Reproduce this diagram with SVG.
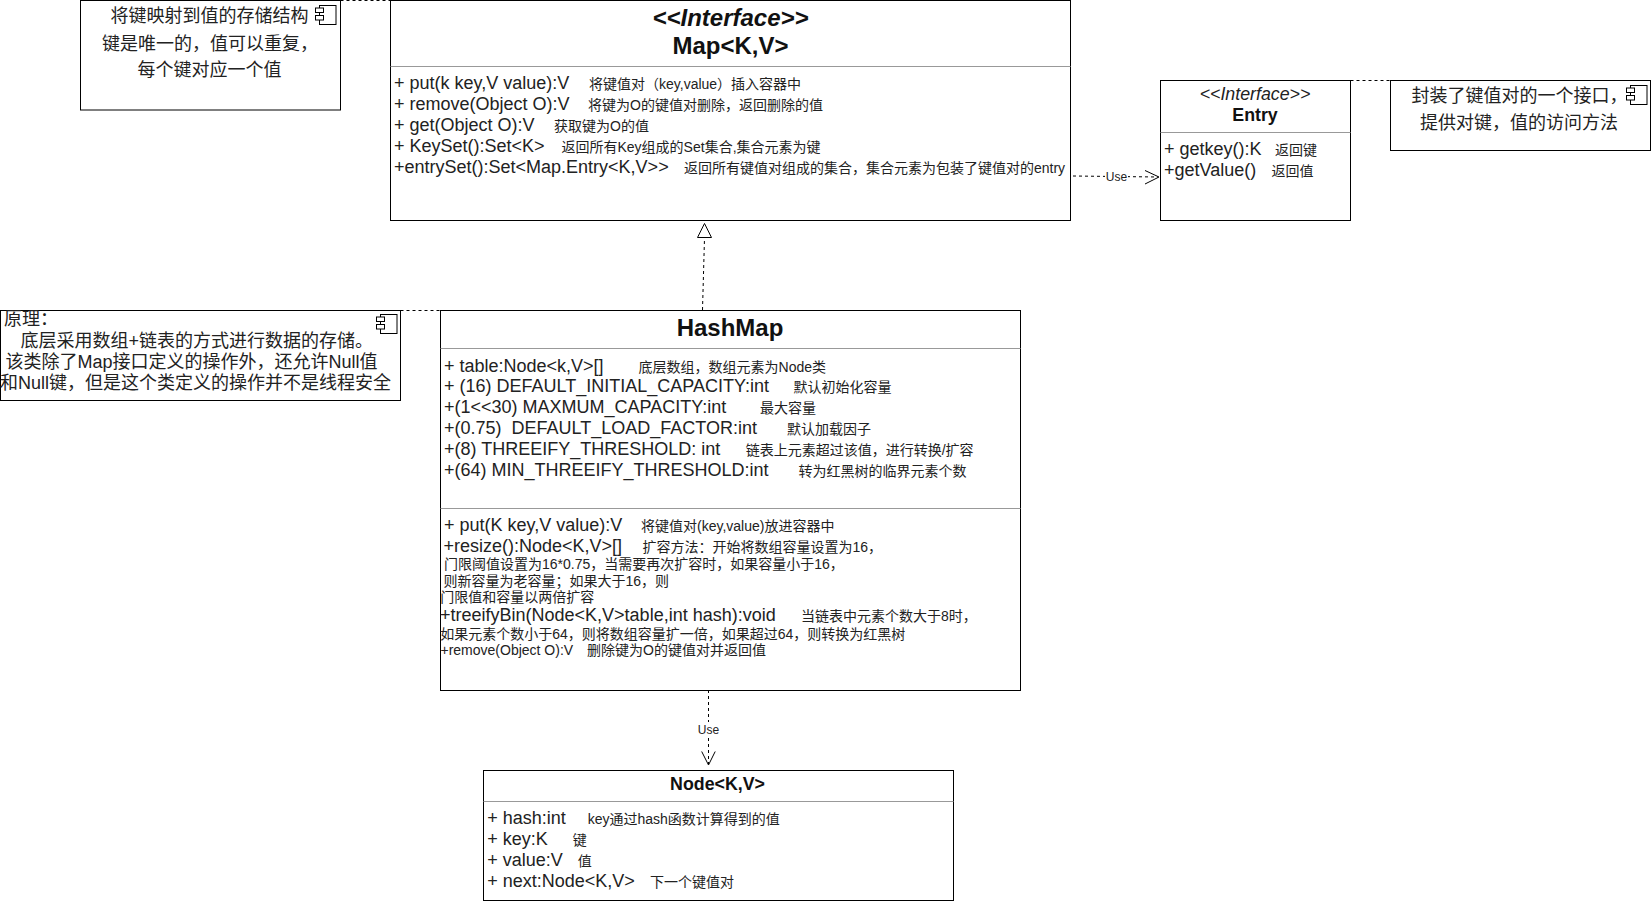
<svg xmlns="http://www.w3.org/2000/svg" xmlns:xlink="http://www.w3.org/1999/xlink" width="1651" height="901" viewBox="0 0 1651 901">
<style>
text{font-family:"Liberation Sans","Noto Sans CJK SC",sans-serif;fill:#222;white-space:pre}
.m{font-size:18px}
.c{font-size:14px}
.n{font-size:18px}
.t{font-size:24px;font-weight:bold;text-anchor:middle;fill:#111}
.ti{font-style:italic}
.h{font-size:17.8px;text-anchor:middle}
.b{font-weight:bold;fill:#111}
.i{font-style:italic}
.u{font-size:12px;text-anchor:middle}
.box{fill:#fff;stroke:#000;stroke-width:1}
.div{stroke:#999;stroke-width:1;fill:none}
.dash{stroke:#000;stroke-width:1;fill:none;stroke-dasharray:3 3}
.open{stroke:#000;stroke-width:1;fill:none}
.tri{stroke:#000;stroke-width:1;fill:#fff}
.lbl{fill:#fff;stroke:none}
</style>
<defs>
<g id="icon">
<rect x="4.5" y="0.5" width="16.5" height="19" fill="#fff" stroke="#000"/>
<rect x="0.5" y="3" width="8" height="4.5" fill="#fff" stroke="#000"/>
<rect x="0.5" y="10.5" width="8" height="4.5" fill="#fff" stroke="#000"/>
</g>
</defs>
<rect width="1651" height="901" fill="#fff"/>
<g id="connectors">
<path class="dash" d="M340.5 0.5H390.5"/>
<path class="dash" d="M1350.5 80.5H1390.5"/>
<path class="dash" d="M400.5 310.5H440.5"/>
<path class="dash" d="M702.5 310L704.5 238"/>
<path class="tri" d="M704.5 223.5L711.5 237.5H697.5Z"/>
<path class="dash" d="M1073 176L1158 177"/>
<path class="open" d="M1145 170.5L1159 177L1145 184"/>
<rect class="lbl" x="1105" y="170" width="23" height="14"/>
<text class="u" x="1116.5" y="181">Use</text>
<path class="dash" d="M708.5 690V764"/>
<path class="open" d="M701.7 751.5L708.5 765L715.2 751.5"/>
<rect class="lbl" x="697" y="722" width="23" height="14"/>
<text class="u" x="708.5" y="734">Use</text>
</g>
<g id="note-map">
<rect class="box" x="80.5" y="0.5" width="260" height="109.5"/>
<use xlink:href="#icon" href="#icon" x="315" y="5"/>
<text class="n" x="110.4" y="21.5">将键映射到值的存储结构</text>
<text class="n" x="102" y="49.5">键是唯一的，值可以重复，</text>
<text class="n" x="137.6" y="76">每个键对应一个值</text>
</g>
<g id="map">
<rect class="box" x="390.5" y="0.5" width="680" height="220"/>
<path class="div" d="M390.5 66.5H1070.5"/>
<text class="t ti" x="730.5" y="26">&lt;&lt;Interface&gt;&gt;</text>
<text class="t" x="730.5" y="54">Map&lt;K,V&gt;</text>
<text class="m" x="394" y="89">+ put(k key,V value):V</text><text class="c" x="589" y="89">将键值对（key,value）插入容器中</text>
<text class="m" x="394" y="110">+ remove(Object O):V</text><text class="c" x="588" y="110">将键为O的键值对删除，返回删除的值</text>
<text class="m" x="394" y="131">+ get(Object O):V</text><text class="c" x="554" y="131">获取键为O的值</text>
<text class="m" x="394" y="152">+ KeySet():Set&lt;K&gt;</text><text class="c" x="561.5" y="152">返回所有Key组成的Set集合,集合元素为键</text>
<text class="m" x="394" y="173">+entrySet():Set&lt;Map.Entry&lt;K,V&gt;&gt;</text><text class="c" x="684" y="173">返回所有键值对组成的集合，集合元素为包装了键值对的entry</text>
</g>
<g id="entry">
<rect class="box" x="1160.5" y="80.5" width="190" height="140"/>
<path class="div" d="M1160.5 132.5H1350.5"/>
<text class="h i" x="1255" y="100">&lt;&lt;Interface&gt;&gt;</text>
<text class="h b" x="1255" y="121">Entry</text>
<text class="m" x="1164" y="155">+ getkey():K</text><text class="c" x="1275" y="155">返回键</text>
<text class="m" x="1164" y="176">+getValue()</text><text class="c" x="1271.5" y="176">返回值</text>
</g>
<g id="note-entry">
<rect class="box" x="1390.5" y="80.5" width="260" height="70"/>
<use xlink:href="#icon" href="#icon" x="1626" y="85"/>
<text class="n" x="1411.4" y="101.5">封装了键值对的一个接口，</text>
<text class="n" x="1420" y="129">提供对键，值的访问方法</text>
</g>
<g id="note-hashmap">
<rect class="box" x="0.5" y="310.5" width="400" height="90"/>
<use xlink:href="#icon" href="#icon" x="376" y="314"/>
<text class="n" x="4" y="325">原理：</text>
<text class="n" x="20.4" y="347">底层采用数组+链表的方式进行数据的存储。</text>
<text class="n" x="5.4" y="368">该类除了Map接口定义的操作外，还允许Null值</text>
<text class="n" x="0" y="389">和Null键，但是这个类定义的操作并不是线程安全</text>
</g>
<g id="hashmap">
<rect class="box" x="440.5" y="310.5" width="580" height="380"/>
<path class="div" d="M440.5 348.5H1020.5M440.5 508.5H1020.5"/>
<text class="t" x="730" y="336">HashMap</text>
<text class="m" x="444" y="372">+ table:Node&lt;k,V&gt;[]</text><text class="c" x="638.6" y="372">底层数组，数组元素为Node类</text>
<text class="m" x="444" y="392">+ (16) DEFAULT_INITIAL_CAPACITY:int</text><text class="c" x="793.6" y="392">默认初始化容量</text>
<text class="m" x="444" y="413">+(1&lt;&lt;30) MAXMUM_CAPACITY:int</text><text class="c" x="760" y="413">最大容量</text>
<text class="m" x="444" y="434">+(0.75)  DEFAULT_LOAD_FACTOR:int</text><text class="c" x="787" y="434">默认加载因子</text>
<text class="m" x="444" y="455">+(8) THREEIFY_THRESHOLD: int</text><text class="c" x="745.7" y="455">链表上元素超过该值，进行转换/扩容</text>
<text class="m" x="444" y="476">+(64) MIN_THREEIFY_THRESHOLD:int</text><text class="c" x="798.5" y="476">转为红黑树的临界元素个数</text>
<text class="m" x="444" y="531">+ put(K key,V value):V</text><text class="c" x="641" y="531">将键值对(key,value)放进容器中</text>
<text class="m" x="443.5" y="552">+resize():Node&lt;K,V&gt;[]</text><text class="c" x="642.4" y="552">扩容方法：开始将数组容量设置为16，</text>
<text class="c" x="444" y="569">门限阈值设置为16*0.75，当需要再次扩容时，如果容量小于16，</text>
<text class="c" x="443.5" y="586">则新容量为老容量；如果大于16，则</text>
<text class="c" x="440.2" y="602">门限值和容量以两倍扩容</text>
<text class="m" x="440" y="621">+treeifyBin(Node&lt;K,V&gt;table,int hash):void</text><text class="c" x="801" y="621">当链表中元素个数大于8时，</text>
<text class="c" x="440.2" y="639">如果元素个数小于64，则将数组容量扩一倍，如果超过64，则转换为红黑树</text>
<text class="c" x="440.5" y="655">+remove(Object O):V</text><text class="c" x="587" y="655">删除键为O的键值对并返回值</text>
</g>
<g id="node">
<rect class="box" x="483.5" y="770.5" width="470" height="130"/>
<path class="div" d="M483.5 801.5H953.5"/>
<text class="h b" x="717.5" y="790">Node&lt;K,V&gt;</text>
<text class="m" x="487.2" y="824">+ hash:int</text><text class="c" x="587.7" y="824">key通过hash函数计算得到的值</text>
<text class="m" x="487.2" y="845">+ key:K</text><text class="c" x="572.7" y="845">键</text>
<text class="m" x="487.2" y="866">+ value:V</text><text class="c" x="577.7" y="866">值</text>
<text class="m" x="487.2" y="887">+ next:Node&lt;K,V&gt;</text><text class="c" x="650" y="887">下一个键值对</text>
</g>
</svg>
